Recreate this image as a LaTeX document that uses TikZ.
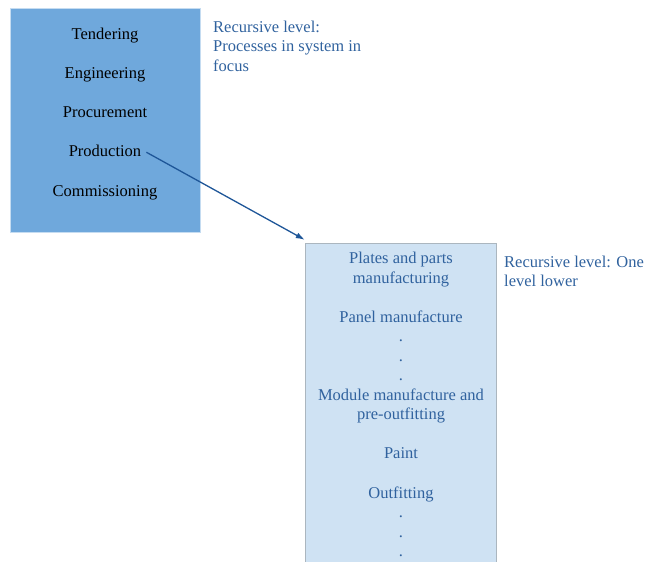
\documentclass[tikz,border=0pt]{standalone}
\usepackage{fontspec}
\setmainfont{Liberation Serif}
\usetikzlibrary{positioning,arrows.meta}
\definecolor{levelblue}{RGB}{111,168,220}
\definecolor{lowerblue}{RGB}{207,226,243}
\definecolor{textblue}{RGB}{48,98,158}
\definecolor{arrowblue}{RGB}{30,86,152}

\begin{document}
\begin{tikzpicture}[x=1pt, y=-1pt,
    every node/.style={font=\fontsize{16.5}{19.5}\selectfont, inner sep=0pt},
    proc/.style={anchor=base},
    sub/.style={anchor=base, text=textblue, align=center},
    note/.style={anchor=base west, text=textblue, align=left}]
    \useasboundingbox (0,0) rectangle (645,562);

    % system in focus (multi-line nodes sit on their last baseline)
    \node[draw=levelblue!40!white, fill=levelblue, minimum width=190pt, minimum height=224pt] (focus) at (105,120) {};
    \node[proc] (tend) at (105,39.3) {Tendering};
    \node[proc] (eng) at (105,78.5) {Engineering};
    \node[proc] (proc) at (105,117.7) {Procurement};
    \node[proc] (prod) at (105,156.9) {Production};
    \node[proc] (comm) at (105,196.1) {Commissioning};
    \node[note] (focusnote) at (213,71.3) {Recursive level:\\Processes in system in\\focus};

    % one level lower
    \node[draw=gray!45!lowerblue, fill=lowerblue, minimum width=191pt, minimum height=322pt] (lower) at (400.5,404) {};
    \node[sub] (plates) at (401,283) {Plates and parts\\manufacturing};
    \node[sub] (panel) at (401,322) {Panel manufacture};
    \foreach \y [count=\i] in {341.5,361,380.5}
        \node[sub] (dota\i) at (401,\y) {.};
    \node[sub] (module) at (401,419.5) {Module manufacture and\\pre-outfitting};
    \node[sub] (paint) at (401,458.5) {Paint};
    \node[sub] (outf) at (401,498) {Outfitting};
    \foreach \y [count=\i] in {517.5,537,556.5}
        \node[sub] (dotb\i) at (401,\y) {.};
    \node[note] (lowernote) at (504,286.8) {Recursive level: One\\level lower};

    \draw[-{Latex[length=9pt,width=6pt]}, arrowblue, line width=1.3pt] ([xshift=5pt,yshift=-1pt]prod.east) -- ([yshift=3pt]lower.north west);
\end{tikzpicture}
\end{document}
